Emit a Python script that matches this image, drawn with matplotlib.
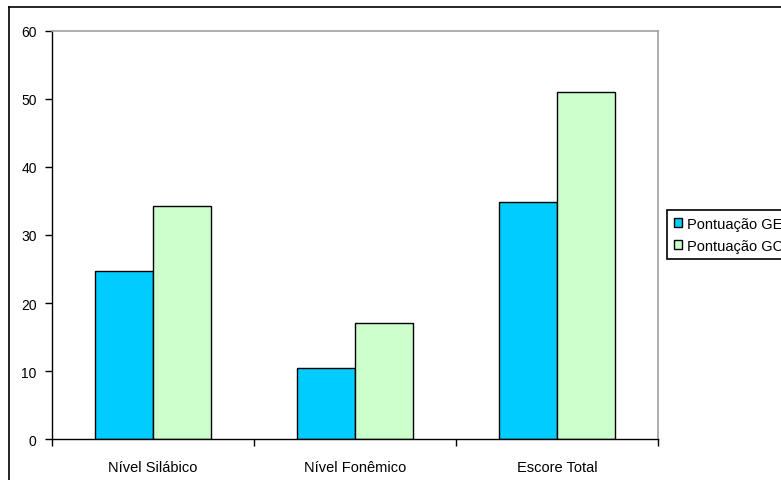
import matplotlib
matplotlib.use("Agg")
import matplotlib.pyplot as plt
import numpy as np
from matplotlib.lines import Line2D

categories = ["Nível Silábico", "Nível Fonêmico", "Escore Total"]
series_names = ["Pontuação GE", "Pontuação GC"]
ge_values = [24.7, 10.4, 34.8]
gc_values = [34.3, 17.1, 51.0]
y_ticks = [0, 10, 20, 30, 40, 50, 60]

plt.rcParams['font.family'] = ['Liberation Sans', 'DejaVu Sans']

W, H = 781, 481
fig = plt.figure(figsize=(W / 100, H / 100), dpi=100)
ax = fig.add_axes([52 / W, 1 - 440 / H, (658 - 52) / W, (440 - 32) / H])

x = np.arange(len(categories))
bw = 0.285
ax.bar(x - bw / 2, ge_values, bw, color="#00CCFF", edgecolor="black", linewidth=1.0, label=series_names[0])
ax.bar(x + bw / 2, gc_values, bw, color="#CCFFCC", edgecolor="black", linewidth=1.0, label=series_names[1])

ax.set_xlim(-0.5, len(categories) - 0.5)
ax.set_ylim(0, 60)
ax.set_yticks(y_ticks)
ax.set_yticklabels([str(v) for v in y_ticks], fontsize=10)
ax.set_xticks(x)
ax.set_xticklabels(categories, fontsize=10.5)
ax.tick_params(axis='x', length=0, pad=15)
ax.set_xticks(np.arange(len(categories) + 1) - 0.5, minor=True)
ax.tick_params(axis='x', which='minor', length=5, width=1, direction='out')
ax.tick_params(axis='y', length=5, width=1, direction='out', pad=6)

for s in ['top', 'right']:
    ax.spines[s].set_color('#a0a0a0')
    ax.spines[s].set_linewidth(1.2)
for s in ['left', 'bottom']:
    ax.spines[s].set_color('black')
    ax.spines[s].set_linewidth(1.0)

# outer chart border
fig.add_artist(Line2D([9 / W, 1.0], [1 - 8 / H, 1 - 8 / H], color='black', linewidth=1.2, transform=fig.transFigure))
fig.add_artist(Line2D([9 / W, 9 / W], [0, 1 - 8 / H], color='black', linewidth=1.2, transform=fig.transFigure))

leg = ax.legend(loc='upper left', bbox_to_anchor=(667 / W, 1 - 211 / H), bbox_transform=fig.transFigure,
                fontsize=10.5, frameon=True, fancybox=False, edgecolor='black', framealpha=1,
                handlelength=0.6, handleheight=0.6, handletextpad=0.3, borderpad=0.45, labelspacing=0.55,
                borderaxespad=0)
leg.get_frame().set_linewidth(1.2)

fig.savefig("out.png", dpi=100)
